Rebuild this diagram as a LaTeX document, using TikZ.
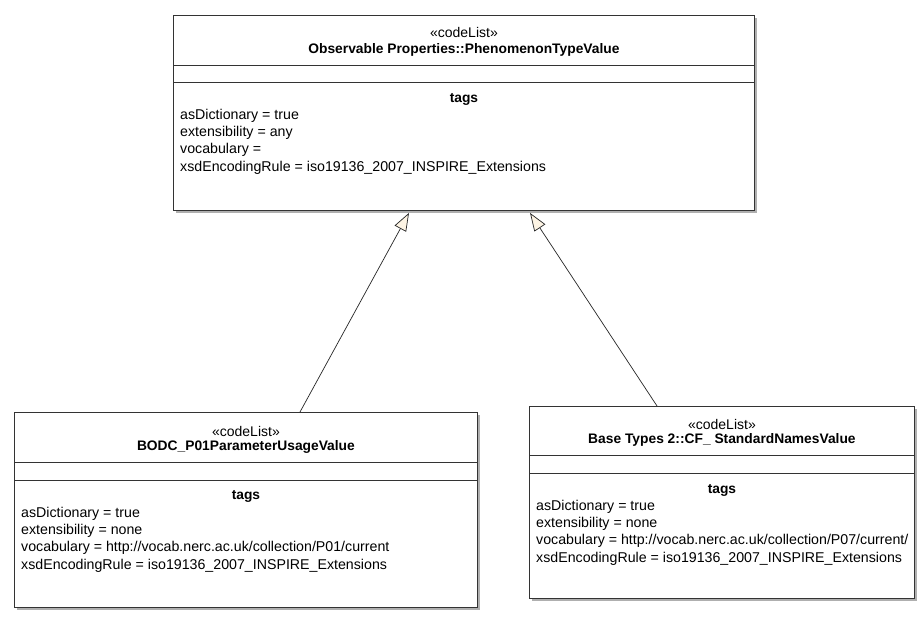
\documentclass[tikz,border=0pt]{standalone}
\usepackage{fontspec}
\setmainfont{Liberation Sans}
\usetikzlibrary{arrows.meta,shadows,calc}
\definecolor{cream}{RGB}{253,244,228}
\definecolor{shadowgray}{RGB}{175,175,175}
\begin{document}
\begin{tikzpicture}[x=1pt,y=-1pt,
  classbox/.style={draw=black!80,line width=0.9pt,fill=white,anchor=north west,inner sep=0pt,
    drop shadow={shadow xshift=3pt,shadow yshift=-3pt,fill=shadowgray,opacity=1}},
  sep/.style={draw=black!80,line width=0.9pt},
  ctext/.style={anchor=center,inner sep=0pt,font=\fontsize{14}{16}\selectfont},
  btext/.style={anchor=center,inner sep=0pt,font=\fontsize{13.8}{16}\selectfont\bfseries},
  ltext/.style={anchor=west,inner sep=0pt,font=\fontsize{14.2}{16}\selectfont},
  gen/.style={draw=black!85,line width=0.7pt,-{Triangle[length=18pt,width=13pt,fill=cream]}}
]
\useasboundingbox (0,0) rectangle (924,617);
\fill[white] (0,0) rectangle (924,617);

% top class
\node[classbox,minimum width=581pt,minimum height=195pt] (top) at (173,15) {};
\draw[sep] ($(top.north west)+(0,50)$) -- ($(top.north east)+(0,50)$);
\draw[sep] ($(top.north west)+(0,67)$) -- ($(top.north east)+(0,67)$);
\node[ctext] (t1) at ($(top.north)+(0,18)$) {«codeList»};
\node[btext] (t2) at ($(top.north)+(0,35)$) {Observable Properties::PhenomenonTypeValue};
\node[btext] (t3) at ($(top.north)+(0,84)$) {tags};
\node[ltext] (t4) at ($(top.north west)+(7,101)$) {asDictionary = true};
\node[ltext] (t5) at ($(top.north west)+(7,118)$) {extensibility = any};
\node[ltext] (t6) at ($(top.north west)+(7,135)$) {vocabulary =};
\node[ltext] (t7) at ($(top.north west)+(7,153)$) {xsdEncodingRule = iso19136\_2007\_INSPIRE\_Extensions};

% left class
\node[classbox,minimum width=463pt,minimum height=195pt] (left) at (14,412) {};
\draw[sep] ($(left.north west)+(0,50)$) -- ($(left.north east)+(0,50)$);
\draw[sep] ($(left.north west)+(0,68)$) -- ($(left.north east)+(0,68)$);
\node[ctext] (l1) at ($(left.north)+(0,19)$) {«codeList»};
\node[btext] (l2) at ($(left.north)+(0,35)$) {BODC\_P01ParameterUsageValue};
\node[btext] (l3) at ($(left.north)+(0,84)$) {tags};
\node[ltext] (l4) at ($(left.north west)+(7,102)$) {asDictionary = true};
\node[ltext] (l5) at ($(left.north west)+(7,119)$) {extensibility = none};
\node[ltext] (l6) at ($(left.north west)+(7,136)$) {vocabulary = http://vocab.nerc.ac.uk/collection/P01/current};
\node[ltext] (l7) at ($(left.north west)+(7,154)$) {xsdEncodingRule = iso19136\_2007\_INSPIRE\_Extensions};

% right class
\node[classbox,minimum width=385pt,minimum height=192pt] (right) at (529,406) {};
\draw[sep] ($(right.north west)+(0,49)$) -- ($(right.north east)+(0,49)$);
\draw[sep] ($(right.north west)+(0,67)$) -- ($(right.north east)+(0,67)$);
\node[ctext] (r1) at ($(right.north)+(0,18)$) {«codeList»};
\node[btext] (r2) at ($(right.north)+(0,34)$) {Base Types 2::CF\_ StandardNamesValue};
\node[btext] (r3) at ($(right.north)+(0,84)$) {tags};
\node[ltext] (r4) at ($(right.north west)+(7,101)$) {asDictionary = true};
\node[ltext] (r5) at ($(right.north west)+(7,118)$) {extensibility = none};
\node[ltext] (r6) at ($(right.north west)+(7,135)$) {vocabulary = http://vocab.nerc.ac.uk/collection/P07/current/};
\node[ltext] (r7) at ($(right.north west)+(7,153)$) {xsdEncodingRule = iso19136\_2007\_INSPIRE\_Extensions};

% generalisations
\coordinate (la) at ($(left.north west)+(286,0)$);
\coordinate (ta) at ($(top.south west)+(236,2)$);
\coordinate (ra) at ($(right.north west)+(128,0)$);
\coordinate (tb) at ($(top.south west)+(357,2)$);
\draw[gen] (la) -- (ta);
\draw[gen] (ra) -- (tb);
\end{tikzpicture}
\end{document}
